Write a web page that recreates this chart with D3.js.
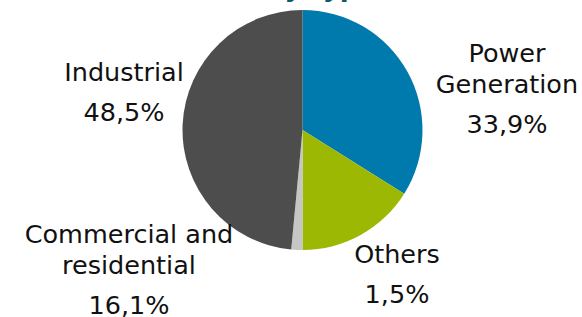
<!DOCTYPE html>
<html>
<head>
<meta charset="utf-8">
<script src="https://cdn.jsdelivr.net/npm/d3@7"></script>
<style>
  html, body { margin: 0; padding: 0; background: #ffffff; }
  svg { display: block; }
</style>
</head>
<body>
<svg id="chart" width="582" height="317"></svg>
<script>
// ---- data ----
const categories = ["Power Generation", "Commercial and residential", "Others", "Industrial"];
const values = [33.9, 16.1, 1.5, 48.5];
const valueLabels = ["33,9%", "16,1%", "1,5%", "48,5%"];
const titleText = "Gas demand by type";

// ---- styles / layout ----
const colors = ["#0079AD", "#9DB802", "#C6C6C6", "#4D4D4D"];
const W = 582, H = 317;
const cx = 302.5, cy = 130, R = 120;
// label layout: [x, first baseline] and name lines
const labelLayout = [
  { x: 507, y: 62, lines: ["Power", "Generation"] },
  { x: 129, y: 243, lines: ["Commercial and", "residential"] },
  { x: 397, y: 263, lines: ["Others"] },
  { x: 124, y: 81, lines: ["Industrial"] }
];
const nameGap = 30.5, pctGap = 40;

const svg = d3.select("#chart");

// title (mostly cut off at top, as in the reference)
svg.append("text")
  .attr("x", 376).attr("y", -4)
  .attr("text-anchor", "end")
  .attr("font-family", "DejaVu Sans, Verdana, sans-serif")
  .attr("font-weight", "bold")
  .attr("font-size", 26)
  .attr("fill", "#0D5A66")
  .text(titleText);

const pie = d3.pie().sort(null).value(d => d)
  .startAngle(0).endAngle(2 * Math.PI);
const arc = d3.arc().innerRadius(0).outerRadius(R);

const g = svg.append("g").attr("transform", `translate(${cx},${cy})`);
g.selectAll("path")
  .data(pie(values))
  .join("path")
  .attr("d", arc)
  .attr("fill", (d, i) => colors[i]);

// labels
const lab = svg.append("g")
  .attr("font-family", "DejaVu Sans, Verdana, sans-serif")
  .attr("font-size", 25.5)
  .attr("fill", "#111111")
  .attr("text-anchor", "middle");

categories.forEach((c, i) => {
  const L = labelLayout[i];
  L.lines.forEach((ln, j) => {
    lab.append("text").attr("x", L.x).attr("y", L.y + j * nameGap).text(ln);
  });
  lab.append("text")
    .attr("x", L.x)
    .attr("y", L.y + (L.lines.length - 1) * nameGap + pctGap)
    .text(valueLabels[i]);
});
</script>
</body>
</html>
